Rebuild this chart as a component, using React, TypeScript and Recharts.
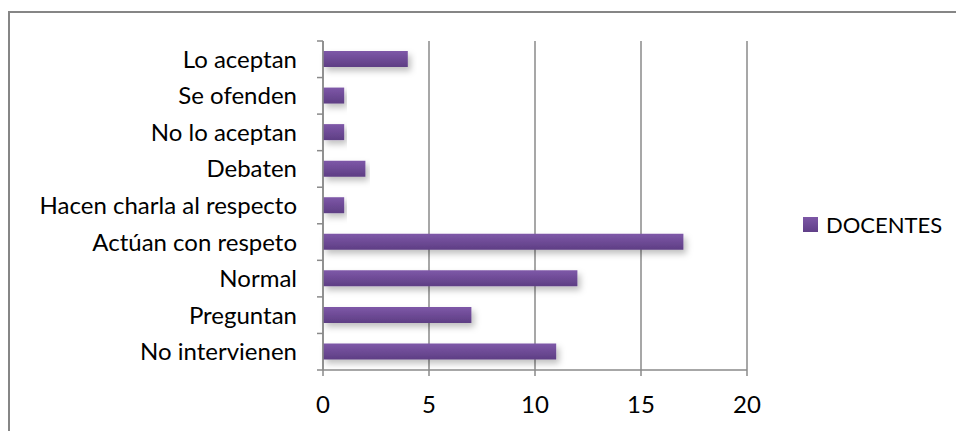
import React from "react";
import { BarChart, Bar, XAxis, YAxis, CartesianGrid } from "recharts";

const categories = [
  "Lo aceptan",
  "Se ofenden",
  "No lo aceptan",
  "Debaten",
  "Hacen charla al respecto",
  "Actúan con respeto",
  "Normal",
  "Preguntan",
  "No intervienen",
];
const docentes = [4, 1, 1, 2, 1, 17, 12, 7, 11];
const xTicks = [0, 5, 10, 15, 20];
const seriesName = "DOCENTES";

const data = categories.map((c, i) => ({ name: c, DOCENTES: docentes[i] }));

const FONT = "Lato, 'Open Sans', sans-serif";
const GRAY = "#8a8a8a";

const YTick = (props: any) => {
  const { x, y, payload, index, visibleTicksCount } = props;
  const off = payload && payload.offset ? payload.offset : 18;
  const ax = x + 26;
  const isLast = index === visibleTicksCount - 1;
  return (
    <g>
      <line x1={ax - 6} x2={ax} y1={y - off} y2={y - off} stroke={GRAY} strokeWidth={1.5} />
      {isLast && <line x1={ax - 6} x2={ax} y1={y + off} y2={y + off} stroke={GRAY} strokeWidth={1.5} />}
      <text x={x} y={y} dy="0.355em" textAnchor="end" fill="#000" fontSize={24} fontFamily={FONT}>
        {payload.value}
      </text>
    </g>
  );
};

export default function App() {
  return (
    <div style={{ position: "absolute", left: 0, top: 0, width: 956, height: 431, background: "#fff", overflow: "hidden" }}>
      <div style={{ position: "absolute", left: 8, top: 11, width: 960, height: 440, borderLeft: "2px solid #868686", borderTop: "2px solid #868686", boxSizing: "border-box" }} />
      <div style={{ position: "absolute", left: 0, top: 0 }}>
        <BarChart
          width={956}
          height={431}
          data={data}
          layout="vertical"
          margin={{ top: 41, right: 209, bottom: 0, left: 0 }}
          barCategoryGap={0}
        >
          <defs>
            <linearGradient id="barGrad" x1="0" y1="0" x2="0" y2="1">
              <stop offset="0%" stopColor="#7e58a8" />
              <stop offset="100%" stopColor="#5e3e84" />
            </linearGradient>
            <filter id="shadow" x="-5%" y="-30%" width="115%" height="200%">
              <feDropShadow dx="3" dy="4" stdDeviation="3" floodColor="#000" floodOpacity="0.25" />
            </filter>
          </defs>
          <CartesianGrid horizontal={false} vertical={true} stroke={GRAY} strokeWidth={1.5} />
          <XAxis
            type="number"
            domain={[0, 20]}
            ticks={xTicks}
            interval={0}
            height={61}
            tickSize={6}
            tickMargin={20}
            axisLine={{ stroke: GRAY, strokeWidth: 1.5 }}
            tickLine={{ stroke: GRAY, strokeWidth: 1.5 }}
            tick={{ fill: "#000", fontSize: 24, fontFamily: FONT }}
          />
          <YAxis
            type="category"
            dataKey="name"
            width={323}
            interval={0}
            tickSize={6}
            tickMargin={20}
            axisLine={{ stroke: GRAY, strokeWidth: 1.5 }}
            tickLine={false}
            tick={<YTick />}
          />
          <Bar
            dataKey="DOCENTES"
            barSize={16}
            fill="url(#barGrad)"
            filter="url(#shadow)"
            isAnimationActive={false}
          />
        </BarChart>
      </div>
      <div style={{ position: "absolute", left: 803, top: 211, display: "flex", alignItems: "center", fontFamily: FONT, fontSize: 22, color: "#000", lineHeight: "27px" }}>
        <div style={{ width: 15, height: 15, background: "linear-gradient(#7d57a6, #603f88)", marginRight: 8 }} />
        <span>{seriesName}</span>
      </div>
    </div>
  );
}
